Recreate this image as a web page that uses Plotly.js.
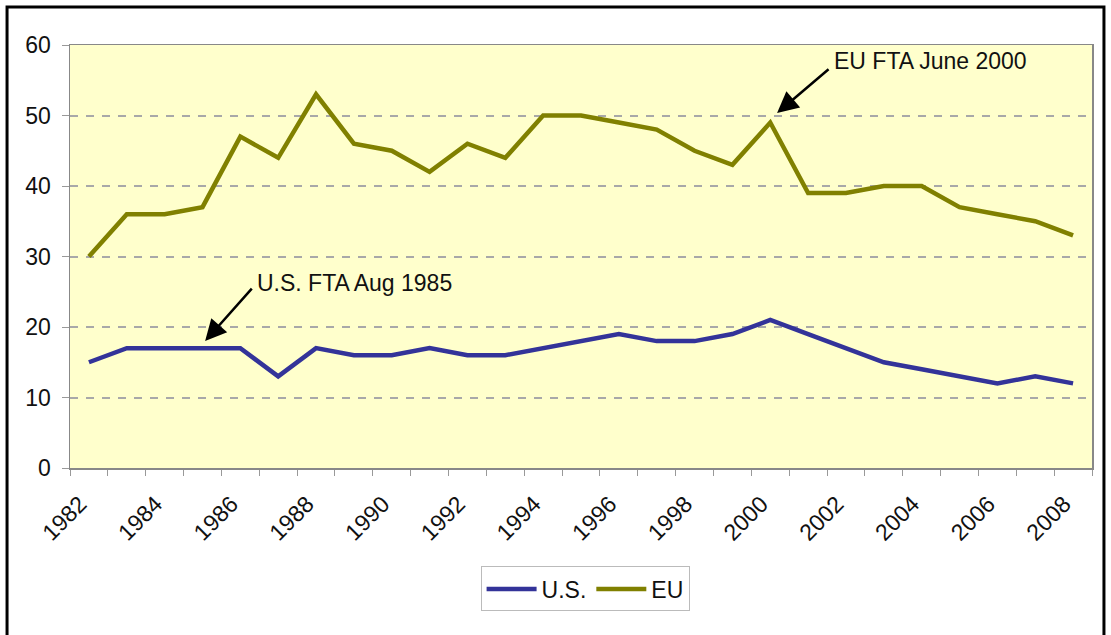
<!DOCTYPE html>
<html>
<head>
<meta charset="utf-8">
<script src="https://cdn.plot.ly/plotly-3.0.1.min.js"></script>
<style>html,body{margin:0;padding:0;background:#fff;}#chart{width:1111px;height:635px;}</style>
</head>
<body>
<div id="chart"></div>
<script>
var years = [1982,1983,1984,1985,1986,1987,1988,1989,1990,1991,1992,1993,1994,1995,1996,1997,1998,1999,2000,2001,2002,2003,2004,2005,2006,2007,2008];
var usValues = [15,17,17,17,17,13,17,16,16,17,16,16,17,18,19,18,18,19,21,19,17,15,14,13,12,13,12];
var euValues = [30,36,36,37,47,44,53,46,45,42,46,44,50,50,49,48,45,43,49,39,39,40,40,37,36,35,33];
var tickYears = [1982,1983,1984,1985,1986,1987,1988,1989,1990,1991,1992,1993,1994,1995,1996,1997,1998,1999,2000,2001,2002,2003,2004,2005,2006,2007,2008,2009];
var tickLabels = tickYears.map(function(y){ return (y % 2 === 0 && y <= 2008) ? String(y) : ''; });

// data points sit at the centre of each year's category slot
var xPos = years.map(function(y){ return y + 0.5; });

var font = 'Arial, "Liberation Sans", sans-serif';
var fs = 23;

var traces = [
  {x: xPos, y: usValues, name: 'U.S.', type: 'scatter', mode: 'lines',
   line: {color: '#333399', width: 4.5}},
  {x: xPos, y: euValues, name: 'EU', type: 'scatter', mode: 'lines',
   line: {color: '#808000', width: 4.5}}
];

var layout = {
  width: 1111, height: 635,
  margin: {l: 70, r: 19, t: 45, b: 167},
  paper_bgcolor: '#ffffff',
  plot_bgcolor: '#ffffcc',
  font: {family: font, size: fs, color: '#111'},
  showlegend: true,
  legend: {orientation: 'h', x: 0.504, y: -0.286, xanchor: 'center', yanchor: 'middle',
           bordercolor: '#bbbbbb', borderwidth: 1, bgcolor: '#ffffff',
           font: {family: font, size: fs, color: '#111'}, itemwidth: 50, tracegroupgap: 0},
  xaxis: {
    range: [1982, 2009], tickmode: 'array', tickvals: tickYears, ticktext: tickLabels,
    tickangle: -45, ticks: 'outside', ticklen: 6, tickcolor: '#999999', tickwidth: 1,
    showgrid: false, zeroline: false, showline: true, linecolor: '#888888', linewidth: 1.5,
    mirror: true, ticklabelshift: 10, ticklabelstandoff: 6,
    tickfont: {family: font, size: fs, color: '#111'}
  },
  yaxis: {
    range: [0, 60], tickvals: [0,10,20,30,40,50,60], ticks: 'outside', ticklen: 7,
    tickcolor: '#999999', showgrid: true, gridcolor: '#a8a8a8', griddash: '8px,8px', gridwidth: 2,
    zeroline: false, showline: true, linecolor: '#888888', linewidth: 1.5, mirror: true,
    ticklabelstandoff: 6, tickfont: {family: font, size: fs, color: '#111'}
  },
  shapes: [
    {type: 'rect', xref: 'paper', yref: 'paper', x0: -0.0616, x1: 1.0117, y0: -0.6, y1: 1.0898,
     line: {color: '#000000', width: 3}, fillcolor: 'rgba(0,0,0,0)', layer: 'below'}
  ],
  annotations: [
    {x: 1985.57, y: 18.0, xref: 'x', yref: 'y', ax: 48, ay: -54, text: '', showarrow: true,
     arrowhead: 2, arrowsize: 1.7, arrowwidth: 2.5, arrowcolor: '#000000'},
    {x: 1985.57, y: 18.0, xref: 'x', yref: 'y', xshift: 50, yshift: 58, text: 'U.S. FTA Aug 1985',
     showarrow: false, xanchor: 'left', yanchor: 'middle', font: {family: font, size: fs, color: '#111'}},
    {x: 2000.68, y: 50.35, xref: 'x', yref: 'y', ax: 53, ay: -45, text: '', showarrow: true,
     arrowhead: 2, arrowsize: 1.7, arrowwidth: 2.5, arrowcolor: '#000000'},
    {x: 2000.68, y: 50.35, xref: 'x', yref: 'y', xshift: 55, yshift: 52, text: 'EU FTA June 2000',
     showarrow: false, xanchor: 'left', yanchor: 'middle', font: {family: font, size: fs, color: '#111'}}
  ]
};

Plotly.newPlot('chart', traces, layout, {displayModeBar: false, staticPlot: true});
</script>
</body>
</html>
